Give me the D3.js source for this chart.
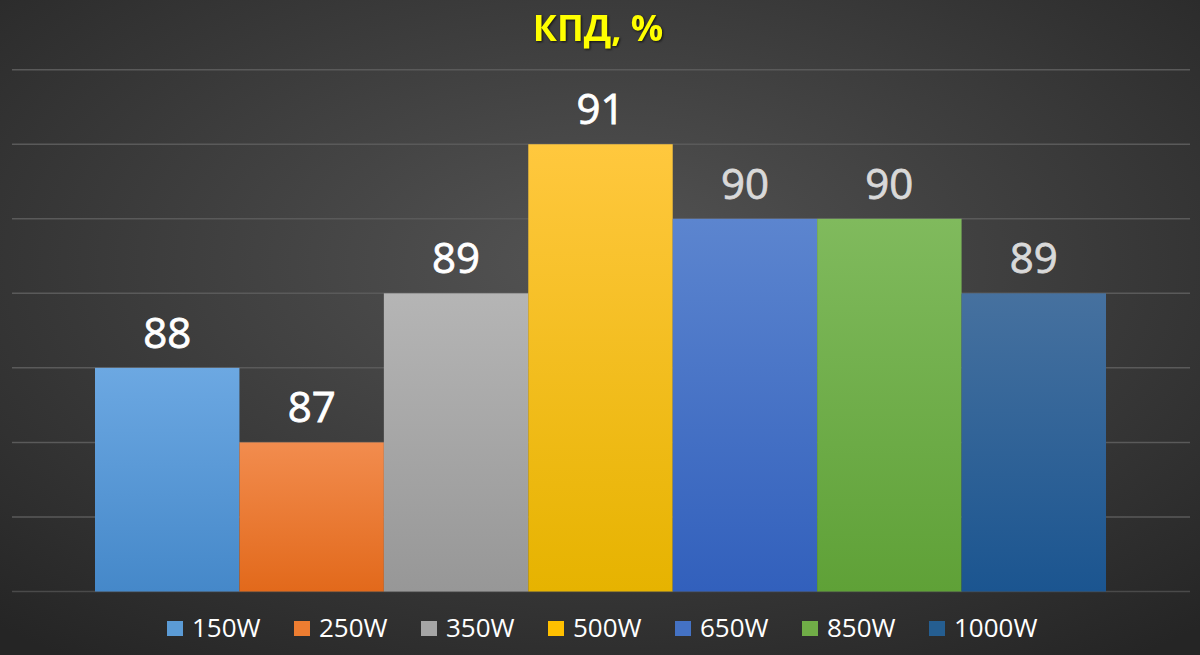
<!DOCTYPE html>
<html><head><meta charset="utf-8">
<script src="https://cdn.jsdelivr.net/npm/d3@7"></script>
<style>html,body{margin:0;padding:0;background:#3a3a3a;}svg{display:block;}</style>
</head><body>
<script>
const series = ["150W","250W","350W","500W","650W","850W","1000W"];
const values = [88,87,89,91,90,90,89];
const colorsTop = ["#6ca8e2","#f28c4e","#b5b5b5","#ffc83e","#5c85cf","#80ba5d","#46719f"];
const colorsBottom = ["#4588c9","#e2691b","#979797","#e6b300","#3260bc","#5fa137","#1b5590"];
const legendColors = ["#5b9bd5","#ed7d31","#a5a5a5","#ffc000","#4472c4","#70ad47","#255e91"];
const labelColors = ["#ffffff","#ffffff","#ffffff","#ffffff","#d9d9d9","#d9d9d9","#d9d9d9"];
const yTicks = [85,86,87,88,89,90,91,92];

const W=1200,H=655;
const svg=d3.select("body").append("svg").attr("width",W).attr("height",H);
const defs=svg.append("defs");
const rg=defs.append("radialGradient").attr("id","bg").attr("cx","50%").attr("cy","40%").attr("r","75%");
rg.append("stop").attr("offset","0%").attr("stop-color","#545454");
rg.append("stop").attr("offset","100%").attr("stop-color","#252525");
svg.append("rect").attr("width",W).attr("height",H).attr("fill","url(#bg)");

series.forEach((s,i)=>{
  const g=defs.append("linearGradient").attr("id","g"+i).attr("x1",0).attr("x2",0).attr("y1",0).attr("y2",1);
  g.append("stop").attr("offset","0%").attr("stop-color",colorsTop[i]);
  g.append("stop").attr("offset","100%").attr("stop-color",colorsBottom[i]);
});

const y=d3.scaleLinear().domain([85,92]).range([591.5,69.7]);
const x=d3.scaleBand().domain(series).range([95,1106]).padding(0);

// gridlines
svg.append("g").selectAll("line").data(yTicks).join("line")
  .attr("x1",12).attr("x2",1190)
  .attr("y1",d=>y(d)).attr("y2",d=>y(d))
  .attr("stroke",d=>d===85?"#4a4a4a":"#5a5a5a").attr("stroke-width",1.5);

// bars
svg.append("g").selectAll("rect").data(values).join("rect")
  .attr("x",(d,i)=>x(series[i])).attr("width",x.bandwidth())
  .attr("y",d=>y(d)).attr("height",d=>y(85)-y(d))
  .attr("fill",(d,i)=>`url(#g${i})`);

// labels
svg.append("g").selectAll("text").data(values).join("text")
  .attr("x",(d,i)=>x(series[i])+x.bandwidth()/2)
  .attr("y",d=>y(d)-20)
  .attr("text-anchor","middle")
  .attr("font-family","Open Sans, sans-serif").attr("font-size",42)
  .attr("stroke",(d,i)=>labelColors[i]).attr("stroke-width",0.8)
  .attr("fill",(d,i)=>labelColors[i]).text(d=>d);

// title
svg.append("text").attr("x",598).attr("y",41).attr("text-anchor","middle")
  .attr("font-family","Open Sans, sans-serif").attr("font-weight","bold").attr("font-size",36)
  .attr("fill","#ffff00").style("filter","drop-shadow(1px 1px 1px rgba(0,0,0,0.7))")
  .text("КПД, %");

// legend
const lg=svg.append("g");
const items=lg.selectAll("g").data(series).join("g")
  .attr("transform",(d,i)=>`translate(${167+i*127},0)`);
items.append("rect").attr("x",0).attr("y",621).attr("width",16).attr("height",15)
  .attr("fill",(d,i)=>legendColors[i]);
items.append("text").attr("x",25).attr("y",637)
  .attr("font-family","Open Sans, sans-serif").attr("font-size",26)
  .attr("fill","#ffffff").text(d=>d);
</script>
</body></html>
